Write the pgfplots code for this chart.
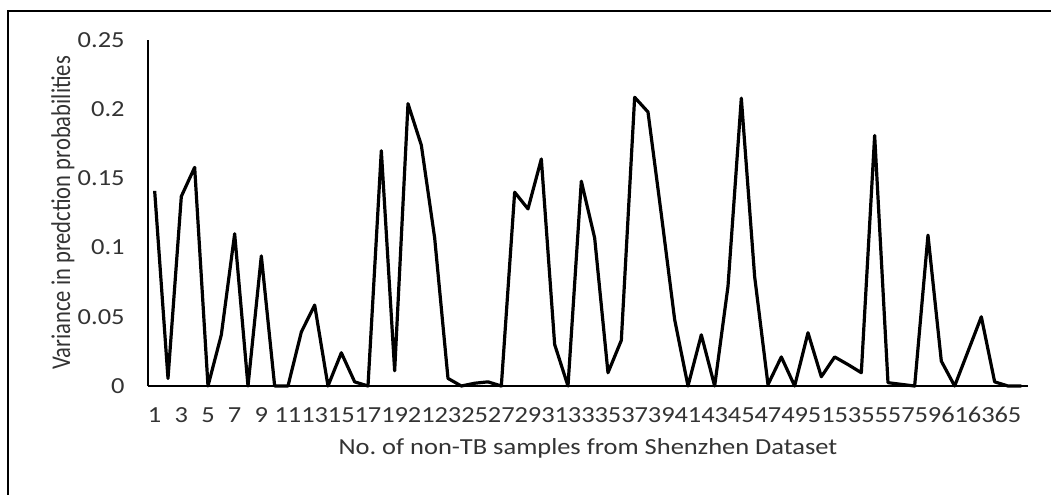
\documentclass[border=0pt]{standalone}
\usepackage{fontspec}
\setmainfont{Carlito}[FakeStretch=1.15]
\newfontfamily\ylfont{Carlito}
\usepackage{pgfplots}
\pgfplotsset{compat=1.18}

% variance per non-TB sample
\pgfplotstableread{
n var
1 0.141
2 0.0055
3 0.137
4 0.158
5 0
6 0.037
7 0.110
8 0
9 0.094
10 0
11 0
12 0.039
13 0.0585
14 0
15 0.024
16 0.003
17 0
18 0.170
19 0.011
20 0.204
21 0.174
22 0.107
23 0.0055
24 0
25 0.002
26 0.003
27 0
28 0.140
29 0.128
30 0.164
31 0.030
32 0
33 0.148
34 0.107
35 0.0096
36 0.033
37 0.2086
38 0.198
39 0.124
40 0.048
41 0
42 0.037
43 0
44 0.072
45 0.208
46 0.079
47 0.001
48 0.021
49 0
50 0.0385
51 0.0067
52 0.021
53 0.0155
54 0.0096
55 0.181
56 0.0024
57 0.0012
58 0
59 0.109
60 0.018
61 0
62 0.025
63 0.050
64 0.003
65 0
66 0
}\shenzhen

\begin{document}
\begin{tikzpicture}
  % page = 1051 x 494 px at 0.5pt per px, origin at the axis corner
  \path[use as bounding box] (-74pt,-54pt) rectangle (451.5pt,193pt);
  \draw[line width=1pt] (-70pt,-60pt) -- (-70pt,187.5pt) -- (460pt,187.5pt);
  \begin{axis}[
    at={(0,0)}, anchor=south west,
    scale only axis,
    width=440pt, height=173pt,
    xmin=0.5, xmax=66.5, ymin=0, ymax=0.25,
    axis lines*=left,
    axis line style={line width=1pt, -},
    major tick length=0pt,
    xtick={1,3,...,65},
    ytick={0,0.05,0.1,0.15,0.2,0.25},
    yticklabels={0,0.05,0.1,0.15,0.2,0.25},
    /pgf/number format/assume math mode=true,
    tick label style={font=\fontsize{11.5}{13}\selectfont, color=black!80},
    yticklabel style={anchor=east, inner sep=0pt, xshift=-11.5pt},
    xticklabel style={anchor=north, inner sep=0pt, yshift=-10.5pt},
    xlabel={No.\ of non-TB samples from Shenzhen Dataset},
    ylabel={\scalebox{1}[1.2]{Variance in predction probabilities}},
    label style={font=\fontsize{11.5}{13}\selectfont, color=black!80},
    xlabel style={at={(axis description cs:0.5,-0.199)}, anchor=base},
    ylabel style={at={(axis description cs:-0.0966,0.5)}, anchor=center,
                  font=\fontsize{11.3}{13}\ylfont},
    clip=false,
  ]
    \addplot[black, line width=1.6pt, line join=round, mark=none]
      table[x=n, y=var] {\shenzhen};
  \end{axis}
\end{tikzpicture}
\end{document}
